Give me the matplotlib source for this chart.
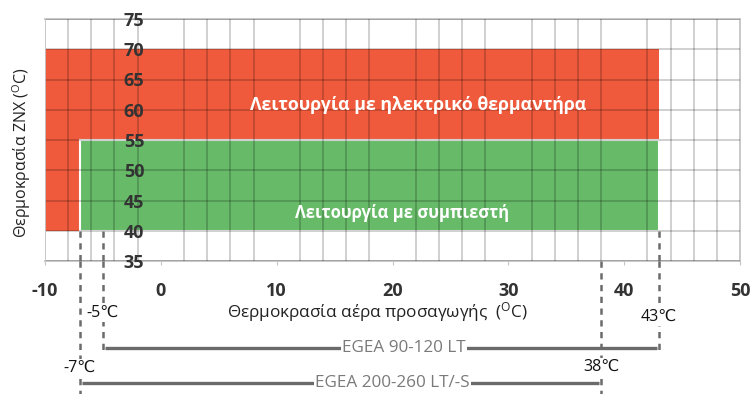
import matplotlib
matplotlib.use("Agg")
import matplotlib.pyplot as plt
import matplotlib.transforms as mtransforms

plt.rcParams['font.family'] = ['Open Sans', 'DejaVu Sans']
plt.rcParams['mathtext.default'] = 'regular'
plt.rcParams['axes.unicode_minus'] = False

# Operating envelope (supply air temperature, DHW temperature)
heater_air = [-10, 43]
heater_water = [40, 70]
comp_air = [-7, 43]
comp_water = [40, 55]

heater_label = "Λειτουργία με ηλεκτρικό θερμαντήρα"
comp_label = "Λειτουργία με συμπιεστή"

x_ticks = [-10, 0, 10, 20, 30, 40, 50]
y_ticks = [35, 40, 45, 50, 55, 60, 65, 70, 75]

# Model air-temperature ranges
models = ["EGEA 90-120 LT", "EGEA 200-260 LT/-S"]
model_min = [-5, -7]
model_max = [43, 38]

RED = "#EE5A3B"
GREEN = "#66BA68"
GRAY = "#6b6b6b"
FRAME = "#c4c4c4"

fig = plt.figure(figsize=(7.52, 3.94), dpi=100)
ax = fig.add_axes([45 / 752, 1 - 261 / 394, 695 / 752, 242 / 394])

ax.bar(heater_air[0], heater_water[1] - heater_water[0], width=heater_air[1] - heater_air[0],
       bottom=heater_water[0], align='edge', color=RED, zorder=1)
ax.bar(comp_air[0], comp_water[1] - comp_water[0], width=comp_air[1] - comp_air[0],
       bottom=comp_water[0], align='edge', color=GREEN, edgecolor='white', linewidth=1.5, zorder=1.2)

ax.text(22.2, 60.8, heater_label, color='white', fontsize=12.8, fontweight='bold',
        ha='center', va='center', zorder=4)
ax.text(20.8, 43.0, comp_label, color='white', fontsize=12, fontweight='bold',
        ha='center', va='center', zorder=4)

ax.set_xlim(-10, 50)
ax.set_ylim(35, 75)
ax.set_xticks(x_ticks)
ax.set_xticks(range(-10, 51, 2), minor=True)
ax.set_yticks(y_ticks)
ax.set_axisbelow(False)
# Grid: every 2 degrees on x (minor ticks only), every 5 degrees on y
ax.grid(True, axis='x', which='minor', color='black', alpha=0.2, linewidth=1.3, zorder=2.5)
ax.grid(True, axis='y', which='major', color='black', alpha=0.2, linewidth=1.3, zorder=2.5)

for side in ['top', 'right', 'bottom']:
    ax.spines[side].set_color(FRAME)
    ax.spines[side].set_linewidth(1.3)
ax.spines['left'].set_position(('data', 0))
ax.spines['left'].set_color('none')

ax.tick_params(axis='y', length=0, pad=12, labelsize=13, labelcolor='#333333')
ax.tick_params(axis='x', which='major', length=3, color=FRAME, pad=12,
               labelsize=13, labelcolor='#333333')
ax.tick_params(axis='x', which='minor', length=0)
for lab in ax.get_xticklabels() + ax.get_yticklabels():
    lab.set_fontweight('bold')

# Left-edge frame line at -10
ax.axvline(-10, color=FRAME, linewidth=1.3, zorder=2.6)

fig.text(377 / 752, 1 - 312 / 394, r"Θερμοκρασία αέρα προσαγωγής  ($^{O}$C)",
         ha='center', va='center', fontsize=12.3, color='#222222')
fig.text(22 / 752, 1 - 153 / 394, r"Θερμοκρασία ZNX ($^{O}$C)", rotation=90,
         ha='center', va='center', fontsize=11.5, color='#222222')

# Annotations below the axes: x in data units, y in figure pixels
trans = mtransforms.blended_transform_factory(ax.transData, fig.transFigure)
H = 394.0

def fy(px):
    return 1 - px / H

dash = dict(color=GRAY, linewidth=1.8, linestyle=(0, (2.5, 2.2)), clip_on=False, zorder=5)

ax.plot([model_min[1], model_min[1]], [comp_water[0], 35], **dash)
ax.plot([model_min[0], model_min[0]], [comp_water[0], 35], **dash)
ax.plot([model_max[0], model_max[0]], [comp_water[0], 35], **dash)
ax.plot([model_min[1]] * 2, [fy(261), fy(394)], transform=trans, **dash)
ax.plot([model_min[0]] * 2, [fy(261), fy(353)], transform=trans, **dash)
ax.plot([model_max[0]] * 2, [fy(261), fy(352)], transform=trans, **dash)
ax.plot([model_max[1]] * 2, [fy(261), fy(394)], transform=trans, **dash)

line_y = [348, 383]
text_x = [21.0, 20.0]
for name, lo, hi, ly, tx in zip(models, model_min, model_max, line_y, text_x):
    ax.plot([lo + 0.2, hi - 0.2], [fy(ly), fy(ly)], transform=trans, color=GRAY,
            linewidth=2.4, clip_on=False, zorder=5, solid_capstyle='butt')
    ax.text(tx, fy(ly), name, transform=trans, ha='center', va='center', fontsize=12.3,
            color='#7a7a7a', zorder=6,
            bbox=dict(facecolor='white', edgecolor='none', pad=1.0))

lim_labels = [(model_min[0], 313), (model_max[0], 317), (model_min[1], 368), (model_max[1], 367)]
for xv, py in lim_labels:
    ax.text(xv, fy(py), f"{xv}\u2103", transform=trans, ha='center', va='center',
            fontsize=11.5, color='#111111', zorder=7,
            bbox=dict(facecolor='white', edgecolor='none', pad=0.5))

fig.savefig("out.png", dpi=100)
